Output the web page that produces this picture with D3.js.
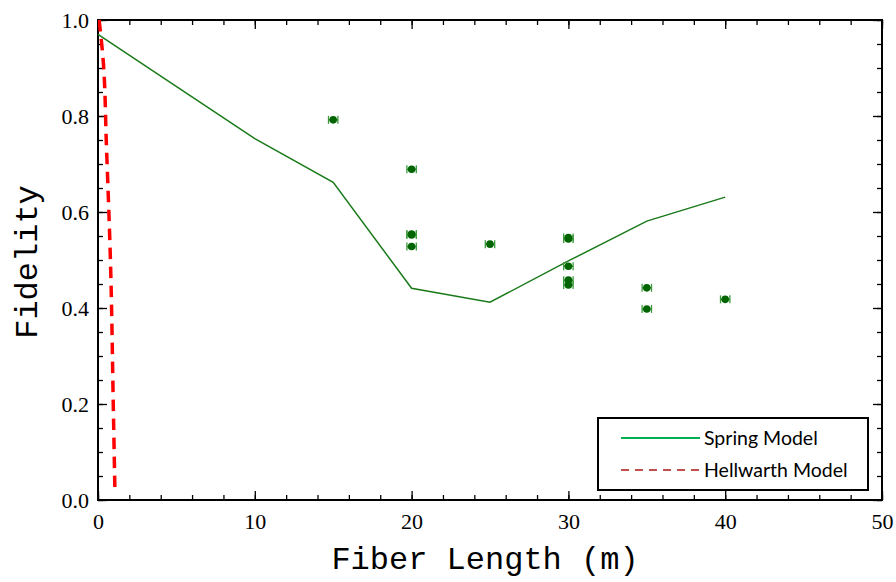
<!DOCTYPE html>
<html><head><meta charset="utf-8">
<script src="https://d3js.org/d3.v7.min.js"></script>
<style>body{margin:0;background:#fff}svg{display:block}
.ttl{font-family:'Liberation Mono','Courier New',monospace;font-size:32px;fill:#000}
.lgt{font-family:'Lato','Open Sans',sans-serif;font-size:19.5px;fill:#000}
</style>
</head><body><svg id="c" width="896" height="582"></svg>
<script>
// Spring Model
const springX = [0, 10, 15, 20, 25, 30, 35, 40];
const springY = [0.97, 0.753, 0.662, 0.441, 0.412, 0.498, 0.581, 0.631];
// Hellwarth Model
const hellX = [0.07, 0.34, 0.53, 0.81, 0.98, 1.09];
const hellY = [1.0, 0.912, 0.746, 0.479, 0.188, 0.0];
// Measured points
const measX = [15, 20, 20, 20, 20, 25, 30, 30, 30, 30, 30, 35, 35, 40];
const measY = [0.792, 0.689, 0.554, 0.552, 0.528, 0.533, 0.547, 0.544, 0.487, 0.458, 0.448, 0.442, 0.398, 0.418];
const xErr = 0.3;
const xTicks = [0, 10, 20, 30, 40, 50];
const yTicks = [0.0, 0.2, 0.4, 0.6, 0.8, 1.0];

const svg = d3.select("#c");
const L = 98, R = 882, T = 20, B = 500;
const x = d3.scaleLinear().domain([0, 50]).range([L, R]);
const y = d3.scaleLinear().domain([0, 1]).range([B, T]);

const xMinor = d3.range(0, 50.001, 2);
const yMinor = d3.range(0, 1.0001, 0.05);
function styleAxis(g){ g.select(".domain").remove(); g.selectAll("line").attr("stroke","#000").attr("stroke-width",1.3); }
svg.append("g").attr("transform",`translate(0,${B})`)
  .call(d3.axisTop(x).tickValues(xMinor).tickSize(5).tickFormat("")).call(styleAxis);
svg.append("g").attr("transform",`translate(0,${B})`)
  .call(d3.axisTop(x).tickValues(xTicks).tickSize(9).tickFormat("")).call(styleAxis);
svg.append("g").attr("transform",`translate(0,${T})`)
  .call(d3.axisBottom(x).tickValues(xMinor).tickSize(5).tickFormat("")).call(styleAxis);
svg.append("g").attr("transform",`translate(0,${T})`)
  .call(d3.axisBottom(x).tickValues(xTicks).tickSize(9).tickFormat("")).call(styleAxis);
svg.append("g").attr("transform",`translate(${L},0)`)
  .call(d3.axisRight(y).tickValues(yMinor).tickSize(5).tickFormat("")).call(styleAxis);
svg.append("g").attr("transform",`translate(${L},0)`)
  .call(d3.axisRight(y).tickValues(yTicks).tickSize(9).tickFormat("")).call(styleAxis);
svg.append("g").attr("transform",`translate(${R},0)`)
  .call(d3.axisLeft(y).tickValues(yMinor).tickSize(5).tickFormat("")).call(styleAxis);
svg.append("g").attr("transform",`translate(${R},0)`)
  .call(d3.axisLeft(y).tickValues(yTicks).tickSize(9).tickFormat("")).call(styleAxis);

// tick labels
function labelStyle(g){
  g.select(".domain").remove();
  g.selectAll("text")
    .style("font-family","'Liberation Serif', 'Times New Roman', Times, serif")
    .style("font-size","22px").style("fill","#000");
}
svg.append("g").attr("transform",`translate(0,${B})`)
  .call(d3.axisBottom(x).tickValues(xTicks).tickSize(0).tickPadding(13).tickFormat(d3.format("d")))
  .call(labelStyle);
svg.append("g").attr("transform",`translate(${L},0)`)
  .call(d3.axisLeft(y).tickValues(yTicks).tickSize(0).tickPadding(9).tickFormat(d3.format(".1f")))
  .call(labelStyle);

// frame
svg.append("rect").attr("x",L).attr("y",T).attr("width",R-L).attr("height",B-T)
  .attr("fill","none").attr("stroke","#000").attr("stroke-width",2);

svg.append("clipPath").attr("id","clip").append("rect").attr("x",L).attr("y",T-2).attr("width",R-L).attr("height",B-T-6);

// spring model line
const springData = springX.map((v,i)=>[v, springY[i]]);
svg.append("path").datum(springData)
  .attr("d", d3.line().x(d=>x(d[0])).y(d=>y(d[1])))
  .attr("fill","none").attr("stroke","#1a7a1a").attr("stroke-width",1.5);

// hellwarth model
const hellData = hellX.map((v,i)=>[v, hellY[i]]);
svg.append("path").datum(hellData).attr("clip-path","url(#clip)")
  .attr("d", d3.line().curve(d3.curveMonotoneY).x(d=>x(d[0])).y(d=>y(d[1])))
  .attr("fill","none").attr("stroke","#ff0000").attr("stroke-width",3.5).attr("stroke-dasharray","11.5,7.5");

// measured points with error bars
const meas = measX.map((v,i)=>({x:v, y:measY[i]}));
const pg = svg.append("g");
meas.forEach(d=>{
  const cx = x(d.x), cy = y(d.y), x0 = x(d.x - xErr), x1 = x(d.x + xErr);
  pg.append("line").attr("x1",x0).attr("x2",x1).attr("y1",cy).attr("y2",cy).attr("stroke","#2e8b2e").attr("stroke-width",1.5);
  pg.append("line").attr("x1",x0).attr("x2",x0).attr("y1",cy-4).attr("y2",cy+4).attr("stroke","#3c9a3c").attr("stroke-width",1.3);
  pg.append("line").attr("x1",x1).attr("x2",x1).attr("y1",cy-4).attr("y2",cy+4).attr("stroke","#3c9a3c").attr("stroke-width",1.3);
  pg.append("circle").attr("cx",cx).attr("cy",cy).attr("r",3.8).attr("fill","#006400");
});

// axis titles
svg.append("text").attr("class","ttl").attr("x",(L+R)/2 - 5).attr("y",569).attr("text-anchor","middle")
  .text("Fiber Length (m)");
svg.append("text").attr("class","ttl").attr("transform",`translate(37,${(T+B)/2+2}) rotate(-90)`).attr("text-anchor","middle")
  .text("Fidelity");

// legend
const lg = svg.append("g");
lg.append("rect").attr("x",598).attr("y",418).attr("width",270).attr("height",72)
  .attr("fill","#fff").attr("stroke","#000").attr("stroke-width",2);
lg.append("line").attr("x1",621).attr("x2",700).attr("y1",438).attr("y2",438).attr("stroke","#00b050").attr("stroke-width",2);
lg.append("line").attr("x1",621).attr("x2",700).attr("y1",470).attr("y2",470).attr("stroke","#c0504d").attr("stroke-width",2).attr("stroke-dasharray","8,6");
lg.append("text").attr("class","lgt").attr("x",704).attr("y",445).text("Spring Model");
lg.append("text").attr("class","lgt").attr("x",704).attr("y",477).text("Hellwarth Model");
</script></body></html>
